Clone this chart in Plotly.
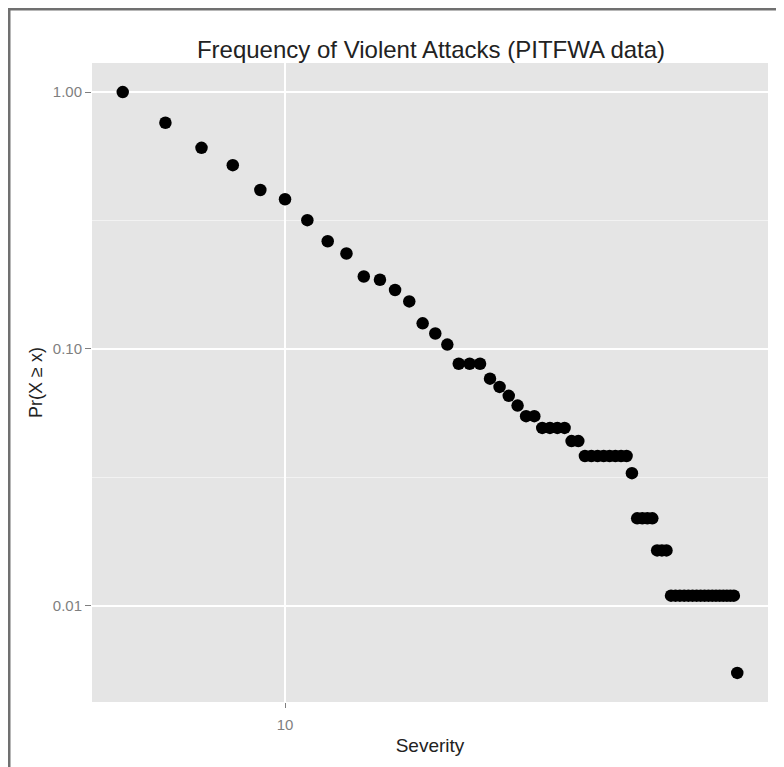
import math
import plotly.graph_objects as go

# ---- data ----
severity = [5, 6, 7, 8, 9, 10, 11, 12, 13, 14, 15, 16, 17, 18, 19, 20,
            21, 22, 23, 24, 25, 26, 27, 28, 29, 30, 31, 32, 33, 34, 35,
            36, 37, 38, 39, 40, 41, 42, 43, 44, 45, 46, 47, 48, 49, 50, 51,
            52, 53, 54, 55, 56, 57, 58, 59, 60, 61, 62, 63, 64, 65, 66, 67, 68, 69]
count_ge = [183, 139, 111, 95, 76, 70, 58, 48, 43, 35, 34, 31, 28, 23, 21, 19,
            16, 16, 16, 14, 13, 12, 11, 10, 10, 9, 9, 9, 9, 8, 8,
            7, 7, 7, 7, 7, 7, 7, 7, 6, 4, 4, 4, 4, 3, 3, 3,
            2, 2, 2, 2, 2, 2, 2, 2, 2, 2, 2, 2, 2, 2, 2, 2, 2, 1]
n_total = 183
x_tick_vals = [10]
x_tick_text = ["10"]
y_tick_vals = [0.01, 0.1, 1.0]
y_tick_text = ["0.01", "0.10", "1.00"]
y_minor_vals = [10 ** -1.5, 10 ** -0.5]

pr = [c / n_total for c in count_ge]

# ggplot-like 5% expansion in log space
lx = [math.log10(v) for v in severity]
ly = [math.log10(v) for v in pr]
ex = 0.05 * (max(lx) - min(lx))
ey = 0.05 * (max(ly) - min(ly))

# page body has an 8px margin, so place the plot area accordingly
ML, MR, MT, MB = 84, 24, 55, 73
PW, PH = 784 - ML - MR, 767 - MT - MB

fig = go.Figure()
fig.add_trace(go.Scatter(
    x=severity, y=pr, mode="markers",
    marker=dict(color="black", size=12.5, symbol="circle"),
    showlegend=False,
))

fig.update_layout(
    width=784, height=767,
    margin=dict(l=ML, r=MR, t=MT, b=MB),
    paper_bgcolor="white",
    plot_bgcolor="#E5E5E5",
    font=dict(family="Liberation Sans, Arial, sans-serif", color="black"),
    title=dict(text="Frequency of Violent Attacks (PITFWA data)",
               x=(431 - 8) / 784, xanchor="center", y=1 - (50 - 8) / 767, yanchor="middle",
               font=dict(size=24, color="#222222")),
    xaxis=dict(
        type="log",
        range=[min(lx) - ex, max(lx) + ex],
        tickvals=x_tick_vals, ticktext=x_tick_text,
        showgrid=True, gridcolor="white", gridwidth=2,
        zeroline=False, showline=False,
        ticks="outside", ticklen=5, tickcolor="#7F7F7F", tickwidth=1,
        ticklabelstandoff=4,
        tickfont=dict(size=15, color="#7F7F7F"),
        title=dict(text="Severity", font=dict(size=19, color="#222222"), standoff=6),
    ),
    yaxis=dict(
        type="log",
        range=[min(ly) - ey, max(ly) + ey],
        tickvals=y_tick_vals, ticktext=y_tick_text,
        showgrid=True, gridcolor="white", gridwidth=2,
        minor=dict(tickvals=y_minor_vals, showgrid=True, gridcolor="#F2F2F2",
                   gridwidth=1, ticks=""),
        zeroline=False, showline=False,
        ticks="outside", ticklen=6, tickcolor="#7F7F7F", tickwidth=1,
        tickfont=dict(size=15, color="#7F7F7F"),
        title=dict(text="Pr(X ≥ x)", font=dict(size=18, color="#222222"), standoff=5),
    ),
    shapes=[
        dict(type="line", xref="paper", yref="paper",
             x0=(0 - ML) / PW, x1=(800 - ML) / PW,
             y0=1 + (MT - 1) / PH, y1=1 + (MT - 1) / PH,
             line=dict(color="#707070", width=3)),
        dict(type="line", xref="paper", yref="paper",
             x0=(1 - ML) / PW, x1=(1 - ML) / PW,
             y0=-(MB + 20) / PH, y1=1 + (MT - 0) / PH,
             line=dict(color="#707070", width=3)),
    ],
)

fig.write_html("out.html")
